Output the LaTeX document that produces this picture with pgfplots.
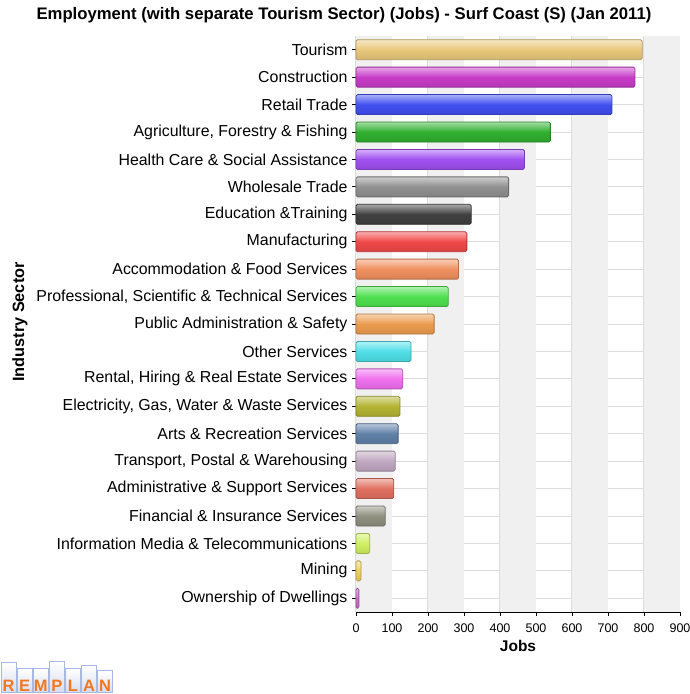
\documentclass[border=0pt]{standalone}
\usepackage{pgfplots}
\pgfplotsset{compat=1.18}
\usepackage{fontspec}
\setmainfont{Liberation Sans}
\definecolor{gridc}{HTML}{DCDCDC}
\definecolor{bandc}{HTML}{F0F0F0}
\definecolor{logob}{HTML}{A8B8E0}
\definecolor{logoo}{HTML}{F07820}
\newcommand{\mybar}[3]{%
  \definecolor{tmpc#1}{HTML}{#3}%
  \addplot[xbar, bar shift=0pt, bar width=20pt, draw=tmpc#1!75!black, line width=0.8pt,
    rounded corners=1.5pt, top color=tmpc#1!45!white, bottom color=tmpc#1!90!black, middle color=tmpc#1]
    coordinates {(#2,#1)};}
\begin{document}
\begin{tikzpicture}[x=1pt,y=1pt]
\path[use as bounding box] (0,0) rectangle (689,694);
\node[font=\bfseries\fontsize{16.7}{18}\selectfont] at (344,679) {Employment (with separate Tourism Sector) (Jobs) - Surf Coast (S) (Jan 2011)};
\node[font=\bfseries\fontsize{16.3}{18}\selectfont, rotate=90] at (20,372) {Industry Sector};
\node[font=\bfseries\fontsize{15.5}{17}\selectfont] at (518,48) {Jobs};
\begin{axis}[
  at={(356pt,82pt)}, anchor=south west,
  scale only axis, width=324pt, height=576pt,
  xmin=0, xmax=900, ymin=-0.5, ymax=20.5, y dir=reverse,
  axis lines*=left, axis line style={black, line width=0.9pt},
  xtick={0,100,...,900}, ytick={0,...,20},
  yticklabels={Tourism,Construction,Retail Trade,{Agriculture, Forestry \& Fishing},Health Care \& Social Assistance,Wholesale Trade,Education \&Training,Manufacturing,Accommodation \& Food Services,{Professional, Scientific \& Technical Services},Public Administration \& Safety,Other Services,{Rental, Hiring \& Real Estate Services},{Electricity, Gas, Water \& Waste Services},Arts \& Recreation Services,{Transport, Postal \& Warehousing},Administrative \& Support Services,Financial \& Insurance Services,Information Media \& Telecommunications,Mining,Ownership of Dwellings},
  tick align=outside, major tick length=4pt, tick style={black, line width=0.8pt},
  xmajorgrids, ymajorgrids, grid style={gridc, line width=1pt},
  yticklabel style={font=\fontsize{15.9}{17}\selectfont, xshift=-1pt},
  xticklabel style={font=\fontsize{12.5}{14}\selectfont, yshift=-4pt},
  /pgf/number format/assume math mode=true,
  axis on top=false, clip=false,
]
\fill[bandc] (axis cs:0,-0.5) rectangle (axis cs:100,20.5);
\fill[bandc] (axis cs:200,-0.5) rectangle (axis cs:300,20.5);
\fill[bandc] (axis cs:400,-0.5) rectangle (axis cs:500,20.5);
\fill[bandc] (axis cs:600,-0.5) rectangle (axis cs:700,20.5);
\fill[bandc] (axis cs:800,-0.5) rectangle (axis cs:900,20.5);
\mybar{0}{795}{E8C87A}
\mybar{1}{775}{C83CC8}
\mybar{2}{711}{4050F0}
\mybar{3}{540}{30B030}
\mybar{4}{468}{A050F0}
\mybar{5}{424}{909090}
\mybar{6}{320}{404040}
\mybar{7}{308}{F04848}
\mybar{8}{285}{F09060}
\mybar{9}{256}{50E050}
\mybar{10}{217}{EC9C50}
\mybar{11}{153}{50E0E8}
\mybar{12}{130}{F070F0}
\mybar{13}{122}{B4B432}
\mybar{14}{117}{6080A8}
\mybar{15}{109}{C0A8C0}
\mybar{16}{105}{E07060}
\mybar{17}{81}{909080}
\mybar{18}{38}{D0F060}
\mybar{19}{14}{F0D060}
\mybar{20}{8}{D070D0}
\end{axis}
% logo
\foreach \i/\L/\h in {0/R/30,1/E/24,2/M/24,3/P/31,4/L/24,5/A/27,6/N/22}{
  \shade[top color=white, bottom color=logob!50!white, draw=logob, line width=1pt] (1+\i*16.1,1) rectangle (1+\i*16.1+15.2,1+\h);
  \node[anchor=south, inner sep=0pt, text=logoo, font=\bfseries\fontsize{16.5}{16}\selectfont] at (1+\i*16.1+7.6,2) {\L};
}
\end{tikzpicture}
\end{document}
